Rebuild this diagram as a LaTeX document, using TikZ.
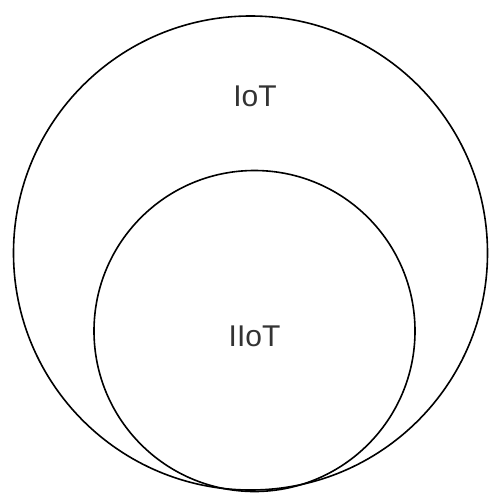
\documentclass[tikz,border=0pt]{standalone}
\usepackage{fontspec}
\setmainfont{Liberation Sans}
\begin{document}
\begin{tikzpicture}[x=1pt,y=-1pt,
  ring/.style={draw=black,line width=1.6pt,circle,inner sep=0pt},
  lbl/.style={font=\fontsize{30}{36}\selectfont,text=black!80}]
  \useasboundingbox (0,0) rectangle (488,493);
  \node[ring,minimum size=474pt] (iot) at (250.5,253) {};
  \node[ring,minimum size=321pt] (iiot) at (254.5,331) {};
  \node[lbl] (iotlabel) at (255,96) {IoT};
  \node[lbl] (iiotlabel) at (254.5,336) {IIoT};
\end{tikzpicture}
\end{document}
